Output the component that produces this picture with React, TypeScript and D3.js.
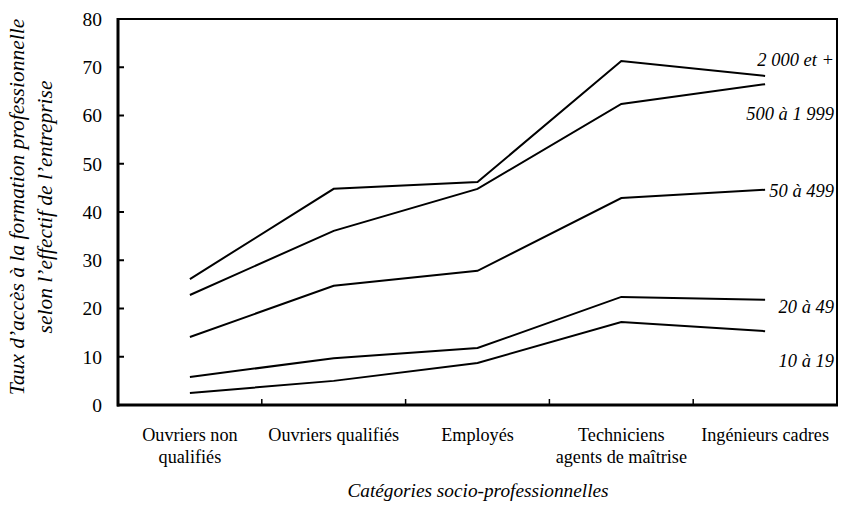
import React from "react";
import * as d3 from "d3";

const categories = [
  ["Ouvriers non", "qualifiés"],
  ["Ouvriers qualifiés"],
  ["Employés"],
  ["Techniciens", "agents de maîtrise"],
  ["Ingénieurs cadres"],
];
const seriesNames = ["2 000 et +", "500 à 1 999", "50 à 499", "20 à 49", "10 à 19"];
const s2000 = [26.1, 44.8, 46.2, 71.3, 68.2];
const s500 = [22.8, 36.1, 44.8, 62.4, 66.5];
const s50 = [14.1, 24.7, 27.8, 42.9, 44.6];
const s20 = [5.8, 9.7, 11.8, 22.4, 21.8];
const s10 = [2.5, 5.0, 8.7, 17.2, 15.3];
const seriesValues = [s2000, s500, s50, s20, s10];
const labelValues = [71.5, 60.5, 44.5, 20.5, 9.2];
const yTicks = [0, 10, 20, 30, 40, 50, 60, 70, 80];

export default function App() {
  const W = 841, H = 509;
  const left = 118, right = 837, top = 19, bottom = 405;
  const x = d3.scaleBand<number>().domain(d3.range(categories.length)).range([left, right]);
  const y = d3.scaleLinear().domain([0, 80]).range([bottom, top]);
  const line = d3.line<number>().x((_, i) => x(i)! + x.bandwidth() / 2).y((d) => y(d));
  const font = "Liberation Serif, Times New Roman, serif";
  return (
    <svg width={W} height={H} style={{ position: "absolute", left: 0, top: 0, background: "#fff", fontFamily: font }}>
      <rect x={0} y={0} width={W} height={H} fill="#fff" />
      <path d={`M${left},${top}H${right}V${bottom}`} fill="none" stroke="#000" strokeWidth={2} />
      <line x1={left} y1={top - 1} x2={left} y2={bottom + 1.5} stroke="#000" strokeWidth={3} />
      <line x1={left - 1} y1={bottom} x2={right + 1} y2={bottom} stroke="#000" strokeWidth={3} />
      {yTicks.map((t) => (
        <g key={t}>
          {t > 0 && t < 80 && <line x1={left} x2={left + 6} y1={y(t)} y2={y(t)} stroke="#000" strokeWidth={2} />}
          <text x={102} y={y(t)} dy="0.35em" textAnchor="end" fontSize={19.5} style={{ fontFamily: font }}>{t}</text>
        </g>
      ))}
      {d3.range(1, categories.length).map((i) => (
        <line key={i} x1={x(i)!} x2={x(i)!} y1={bottom} y2={bottom - 6} stroke="#000" strokeWidth={1.5} />
      ))}
      {categories.map((c, i) => (
        <text key={i} x={x(i)! + x.bandwidth() / 2} y={441} textAnchor="middle" fontSize={18.2} style={{ fontFamily: font }}>
          {c.map((l, j) => (
            <tspan key={j} x={x(i)! + x.bandwidth() / 2} dy={j === 0 ? 0 : 22}>{l}</tspan>
          ))}
        </text>
      ))}
      {seriesValues.map((s, k) => (
        <path key={k} d={line(s)!} fill="none" stroke="#000" strokeWidth={2} />
      ))}
      {seriesNames.map((n, k) => (
        <text key={n} x={834} y={y(labelValues[k])} dy="0.35em" textAnchor="end" fontSize={18.5} fontStyle="italic" style={{ fontFamily: font }}>{n}</text>
      ))}
      <text x={478} y={497} textAnchor="middle" fontSize={19.3} fontStyle="italic" style={{ fontFamily: font }}>Catégories  socio-professionnelles</text>
      <text transform={`translate(24,207) rotate(-90)`} textAnchor="middle" fontSize={21.5} fontStyle="italic" style={{ fontFamily: font }}>
        <tspan x={0} dy={0}>Taux d’accès à la formation professionnelle</tspan>
        <tspan x={0} dy={28}>selon l’effectif de l’entreprise</tspan>
      </text>
    </svg>
  );
}
